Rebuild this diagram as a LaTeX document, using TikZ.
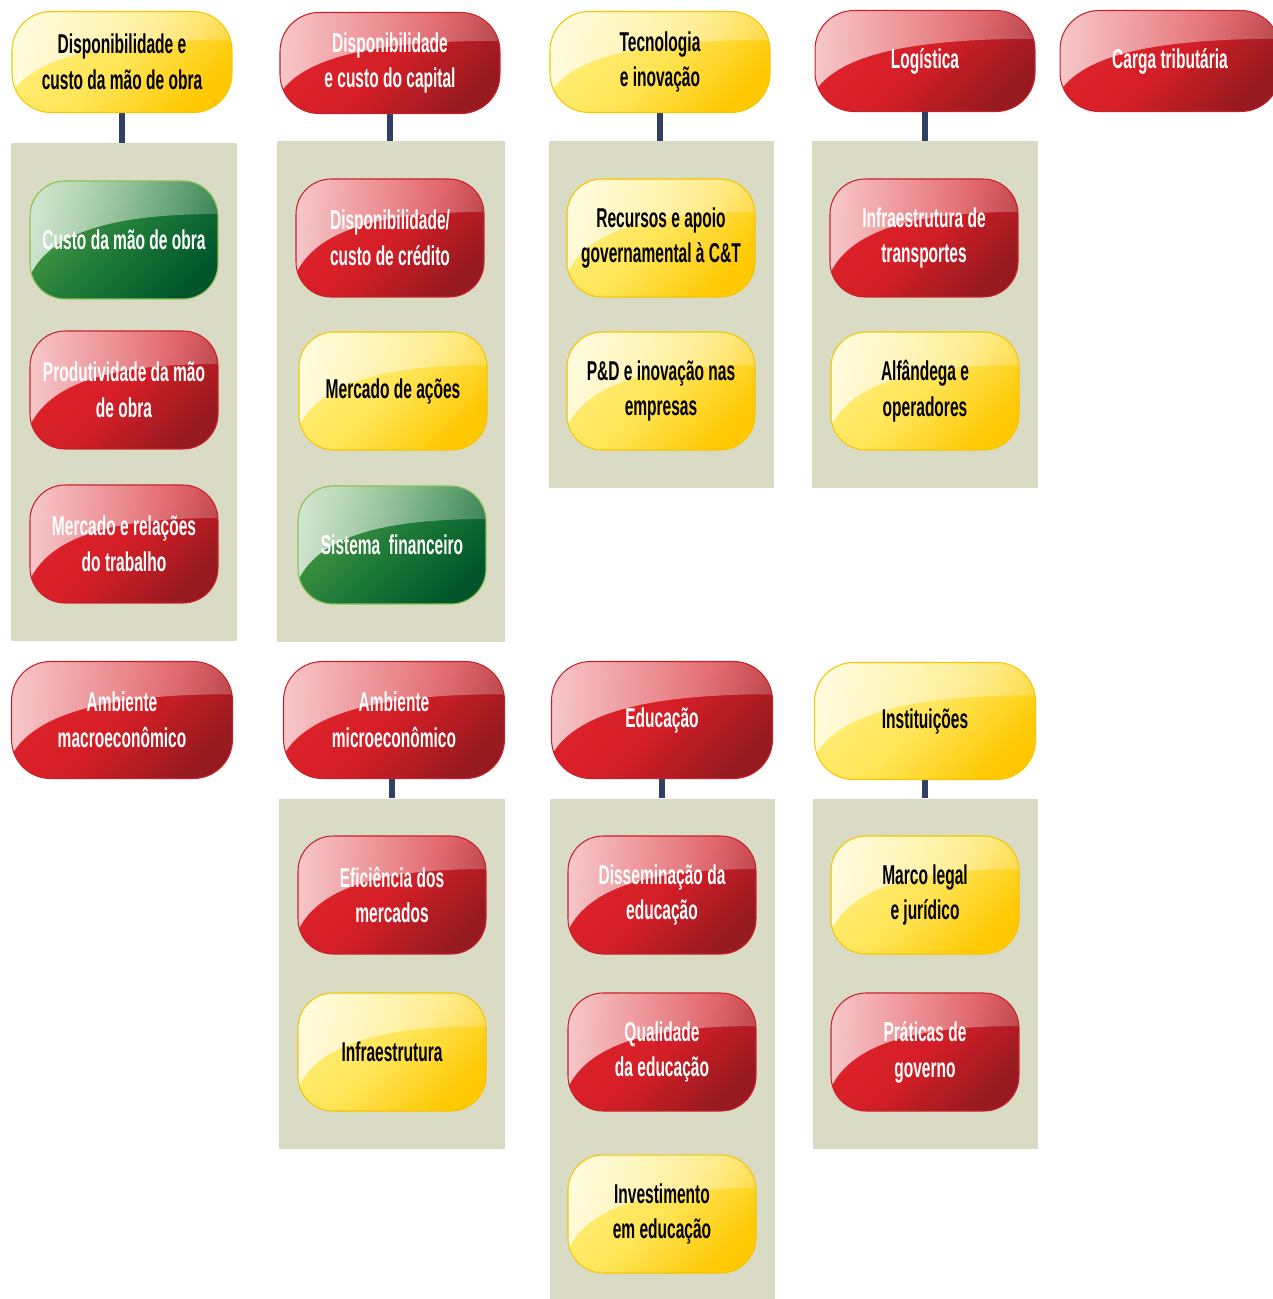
\documentclass[tikz,border=0pt]{standalone}
\usepackage{fontspec}
\setmainfont[FakeStretch=0.57]{Liberation Sans}
\usepackage{tikz}
\usetikzlibrary{positioning, fit, backgrounds, fadings, calc}

\definecolor{ylwtop}{HTML}{FFF07A}
\definecolor{ylwmid}{HTML}{FFE455}
\definecolor{ylwbot}{HTML}{FFC800}
\definecolor{ylwline}{HTML}{F5C600}
\definecolor{redtop}{HTML}{E0232B}
\definecolor{redmid}{HTML}{D41E27}
\definecolor{redbot}{HTML}{961A1F}
\definecolor{redline}{HTML}{C7222B}
\definecolor{grntop}{HTML}{4C9C44}
\definecolor{grnmid}{HTML}{1E7A38}
\definecolor{grnbot}{HTML}{00562A}
\definecolor{grnline}{HTML}{8CC152}
\definecolor{panelbg}{HTML}{D9DBC4}
\definecolor{linkblue}{HTML}{2E4063}

\tikzfading[name=glossfade, left color=transparent!25, right color=transparent!80]

\tikzset{
  gloss/.style={path picture={
    \fill[white, draw=none, sharp corners, path fading=glossfade]
      let \p1=(path picture bounding box.south west),
          \p2=(path picture bounding box.north east) in
      (\x1,\y2) -- (\x2,\y2) -- (\x2,{\y2-0.28*(\y2-\y1)})
      .. controls ({\x1+0.5*(\x2-\x1)},{\y2-0.28*(\y2-\y1)})
              and ({\x1+0.12*(\x2-\x1)},{\y2-0.4*(\y2-\y1)})
      .. (\x1,{\y1+0.2*(\y2-\y1)}) -- cycle;
  }}
}
\tikzstyle{box}       = [rectangle, rounded corners=0.78cm, align=center, line width=0.6pt,
                         font=\fontsize{15.5}{20.4}\selectfont\bfseries, gloss]
\tikzstyle{yellowbox} = [box, draw=ylwline, top color=ylwtop, bottom color=ylwbot,
                         middle color=ylwmid, shading angle=45, text=black]
\tikzstyle{redbox}    = [box, draw=redline, top color=redtop, bottom color=redbot,
                         middle color=redmid, shading angle=45, text=white]
\tikzstyle{greenbox}  = [box, draw=grnline, top color=grntop, bottom color=grnbot,
                         middle color=grnmid, shading angle=45, text=white]
\tikzstyle{head}      = [minimum width=4.4cm, minimum height=2.02cm]
\tikzstyle{head2}     = [minimum width=4.42cm, minimum height=2.34cm]
\tikzstyle{sub}       = [minimum width=3.76cm, minimum height=2.36cm, rounded corners=0.7cm]
\tikzstyle{panel}     = [rectangle, fill=panelbg, inner xsep=0.36cm, inner ysep=0.74cm]
\tikzstyle{link}      = [line width=3.4pt, draw=linkblue]

\begin{document}
\begin{tikzpicture}[x=0.02cm, y=-0.02cm]
    \useasboundingbox (0,0) rectangle (1272,1299);

    % upper row
    \node (maoobra) at (122, 62)   [yellowbox, head] {Disponibilidade e\\custo da mão de obra};
    \node (capital) at (390, 63)   [redbox, head]    {Disponibilidade\\e custo do capital};
    \node (tecno)   at (660, 62)   [yellowbox, head] {Tecnologia\\e inovação};
    \node (logist)  at (925, 61)   [redbox, head]    {Logística};
    \node (carga)   at (1170, 61)  [redbox, head]    {Carga tributária};

    \node (custo)   at (124, 240)  [greenbox, sub]  {Custo da mão de obra};
    \node (produt)  at (124, 390)  [redbox, sub]    {Produtividade da mão\\de obra};
    \node (mertrab) at (124, 544)  [redbox, sub]    {Mercado e relações\\do trabalho};

    \node (credito) at (390, 238)  [redbox, sub]    {Disponibilidade/\\custo de crédito};
    \node (acoes)   at (393, 391)  [yellowbox, sub] {Mercado de ações};
    \node (sisfin)  at (392, 545)  [greenbox, sub]  {Sistema\ \ financeiro};

    \node (recursos) at (661, 238) [yellowbox, sub] {Recursos e apoio\\governamental à C\&T};
    \node (ped)      at (661, 391) [yellowbox, sub] {P\&D e inovação nas\\empresas};

    \node (transp)  at (924, 238)  [redbox, sub]    {Infraestrutura de\\transportes};
    \node (alfand)  at (925, 391)  [yellowbox, sub] {Alfândega e\\operadores};

    % lower row
    \node (macro)   at (122, 720)  [redbox, head2]    {Ambiente\\macroeconômico};
    \node (micro)   at (394, 720)  [redbox, head2]    {Ambiente\\microeconômico};
    \node (educ)    at (662, 720)  [redbox, head2]    {Educação};
    \node (instit)  at (925, 721)  [yellowbox, head2] {Instituições};

    \node (eficien) at (392, 895)  [redbox, sub]    {Eficiência dos\\mercados};
    \node (infra)   at (392, 1052) [yellowbox, sub] {Infraestrutura};

    \node (dissem)  at (662, 895)  [redbox, sub]    {Disseminação da\\educação};
    \node (qualid)  at (662, 1052) [redbox, sub]    {Qualidade\\da educação};
    \node (invest)  at (662, 1214) [yellowbox, sub] {Investimento\\em educação};

    \node (marco)   at (925, 895)  [yellowbox, sub] {Marco legal\\e jurídico};
    \node (praticas) at (925, 1052) [redbox, sub]   {Práticas de\\governo};

    \begin{scope}[on background layer]
        \node (pan1) [panel, fit=(custo)(mertrab)]    {};
        \node (pan2) [panel, fit=(credito)(sisfin)]   {};
        \node (pan3) [panel, fit=(recursos)(ped)]     {};
        \node (pan4) [panel, fit=(transp)(alfand)]    {};
        \node (pan5) [panel, fit=(eficien)(infra)]    {};
        \node (pan6) [panel, fit=(dissem)(invest)]    {};
        \node (pan7) [panel, fit=(marco)(praticas)]   {};

        \draw [link] (maoobra.south) -- (maoobra.south |- pan1.north);
        \draw [link] (capital.south) -- (capital.south |- pan2.north);
        \draw [link] (tecno.south)   -- (tecno.south |- pan3.north);
        \draw [link] (logist.south)  -- (logist.south |- pan4.north);
        \draw [link] (eficien.north |- micro.south) -- (eficien.north |- pan5.north);
        \draw [link] (educ.south)    -- (educ.south |- pan6.north);
        \draw [link] (instit.south)  -- (instit.south |- pan7.north);
    \end{scope}
\end{tikzpicture}
\end{document}
